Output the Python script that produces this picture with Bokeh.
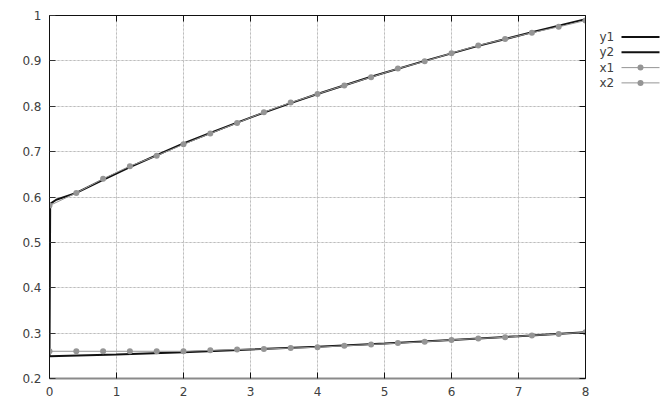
from bokeh.plotting import figure
from bokeh.layouts import row
from bokeh.models import Range1d, LinearAxis, FixedTicker, Grid
from bokeh.embed import file_html
from bokeh.resources import INLINE
from bokeh.core.properties import value

# ---- data ----
x_ticks = [0, 1, 2, 3, 4, 5, 6, 7, 8]
y_ticks = [0.2, 0.3, 0.4, 0.5, 0.6, 0.7, 0.8, 0.9, 1.0]

t_y1 = [0, 1, 2, 3, 4, 5, 6, 7, 8]
y1 = [0.249, 0.253, 0.258, 0.264, 0.270, 0.277, 0.285, 0.293, 0.302]

t_y2 = [0, 0.01, 0.1, 0.4, 0.8, 1.2, 1.6, 2.0, 2.4, 2.8, 3.2, 3.6, 4.0,
        4.8, 5.6, 6.4, 7.2, 8.0]
y2 = [0.25, 0.585, 0.594, 0.609, 0.638, 0.666, 0.692, 0.718, 0.741, 0.764,
      0.786, 0.807, 0.827, 0.865, 0.900, 0.933, 0.963, 0.992]

t_x = [0, 0.4, 0.8, 1.2, 1.6, 2.0, 2.4, 2.8, 3.2, 3.6, 4.0, 4.4, 4.8, 5.2,
       5.6, 6.0, 6.4, 6.8, 7.2, 7.6, 8.0]
x1 = [0.581, 0.609, 0.640, 0.668, 0.691, 0.716, 0.740, 0.763, 0.787, 0.808,
      0.827, 0.846, 0.864, 0.883, 0.899, 0.917, 0.934, 0.948, 0.962, 0.975, 0.989]
x2 = [0.260, 0.260, 0.260, 0.260, 0.260, 0.260, 0.262, 0.264, 0.265, 0.267,
      0.269, 0.272, 0.275, 0.278, 0.281, 0.285, 0.288, 0.291, 0.295, 0.298, 0.302]

legend_labels = ["y1", "y2", "x1", "x2"]

FONT = "DejaVu Sans"
TXT = "#404040"
BLACK = "#111111"
GRAY = "#959595"

p = figure(width=593, height=404, output_backend="svg", toolbar_location=None,
           x_range=Range1d(0, 8), y_range=Range1d(0.2, 1.0),
           x_axis_location=None, y_axis_location=None,
           min_border_left=49, min_border_right=8, min_border_top=15,
           min_border_bottom=26)
p.outline_line_color = None
p.background_fill_color = "white"
p.border_fill_color = "white"

xt = FixedTicker(ticks=x_ticks, minor_ticks=[])
yt = FixedTicker(ticks=y_ticks, minor_ticks=[])

def make_axis(ticker, labels=True, line_color=BLACK, line_width=1, tick_color=BLACK):
    ax = LinearAxis(ticker=ticker)
    ax.axis_line_color = line_color
    ax.axis_line_width = line_width
    ax.major_tick_in = 6
    ax.major_tick_out = 0
    ax.minor_tick_in = 0
    ax.minor_tick_out = 0
    ax.major_tick_line_color = tick_color
    if labels:
        ax.major_label_text_font = FONT
        ax.major_label_text_font_size = "12px"
        ax.major_label_text_color = TXT
        ax.major_label_standoff = 8
    else:
        ax.major_label_text_font_size = "0px"
        ax.major_label_text_color = None
        ax.major_label_standoff = 0
    return ax

bottom = make_axis(xt, True, line_color="#8a8a8a", line_width=2, tick_color=BLACK)
left = make_axis(yt, True, tick_color="#333333")
left.major_label_overrides = {1.0: "1"}
top = make_axis(xt, False)
right = make_axis(yt, False)
p.add_layout(bottom, "below")
p.add_layout(left, "left")
p.add_layout(top, "above")
p.add_layout(right, "right")

for dim, tk in ((0, xt), (1, yt)):
    g = Grid(dimension=dim, ticker=tk)
    g.grid_line_color = "#bdbdbd"
    g.grid_line_dash = "2 2"
    g.grid_line_width = 1
    p.add_layout(g)

# series: black first, gray series with dots on top (legend order)
p.line(t_y1, y1, line_color=BLACK, line_width=2)
p.line(t_y2, y2, line_color=BLACK, line_width=2)
p.line(t_x, x1, line_color=GRAY, line_width=1)
p.scatter(t_x, x1, size=6, fill_color=GRAY, line_color=None)
p.line(t_x, x2, line_color=GRAY, line_width=1)
p.scatter(t_x, x2, size=6, fill_color=GRAY, line_color=None)

# legend panel (label then key, like the reference)
lf = figure(width=71, height=404, output_backend="svg", toolbar_location=None,
            x_range=Range1d(0, 71), y_range=Range1d(404, 0),
            x_axis_location=None, y_axis_location=None, min_border=0)
lf.outline_line_color = None
lf.xgrid.visible = False
lf.ygrid.visible = False
ly = [24, 41, 58, 75]
lf.text(x=[6] * 4, y=ly, text=legend_labels, text_font=value(FONT),
        text_font_size="12px", text_baseline="middle", text_align="left",
        text_color=TXT)
lf.segment(x0=[28, 28], y0=ly[:2], x1=[66, 66], y1=ly[:2], line_color=BLACK, line_width=2)
lf.segment(x0=[28, 28], y0=ly[2:], x1=[66, 66], y1=ly[2:], line_color=GRAY, line_width=1)
lf.scatter(x=[47, 47], y=ly[2:], size=6, fill_color=GRAY, line_color=None)

layout = row(p, lf, spacing=0)
open("out.html", "w").write(file_html(layout, INLINE))
